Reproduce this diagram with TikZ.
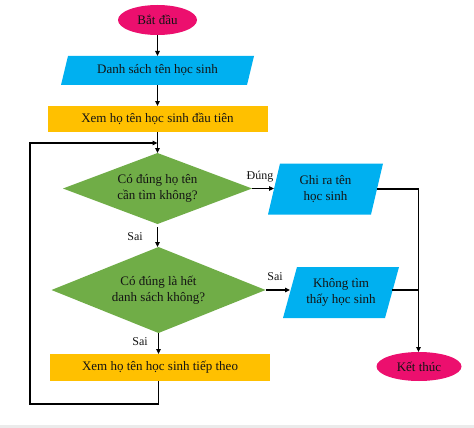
\documentclass[tikz,border=0pt]{standalone}
\usepackage{fontspec}
\setmainfont{Liberation Serif}
\usetikzlibrary{arrows.meta,shapes.geometric,backgrounds}
\definecolor{pinkc}{HTML}{EC0F6E}
\definecolor{bluec}{HTML}{00B0F0}
\definecolor{goldc}{HTML}{FFC000}
\definecolor{greenc}{HTML}{70AD47}
\definecolor{txtc}{HTML}{141414}
\begin{document}
\begin{tikzpicture}[x=1pt,y=-1pt,
  txt/.style={font=\fontsize{13}{16}\selectfont, text=txtc, align=center, inner sep=0pt, outer sep=0pt},
  term/.style={txt, ellipse, fill=pinkc, minimum height=30pt},
  plain/.style={txt, rectangle},
  rbox/.style={txt, rectangle, fill=goldc},
  lbl/.style={font=\fontsize{12}{14}\selectfont, text=txtc, inner sep=0pt},
  ln/.style={draw=black, line width=1.1pt},
  arr/.style={ln, -{Triangle[length=5pt,width=4.5pt]}}]
\useasboundingbox (0,0) rectangle (474,428);

% nodes
\node[term, minimum width=79pt] (start) at (157.5,20) {Bắt đầu};
\node[plain, minimum width=186pt, minimum height=29pt] (p1) at (157.5,70.5) {Danh sách tên học sinh};
\node[rbox, minimum width=220pt, minimum height=26pt] (r1) at (157.5,119) {Xem họ tên học sinh đầu tiên};
\node[plain, minimum width=189pt, minimum height=71pt] (d1) at (157.5,188.5) {Có đúng họ tên\\cần tìm không?};
\node[plain, minimum width=103pt, minimum height=51pt] (p2) at (325.5,189) {Ghi ra tên\\học sinh};
\node[plain, minimum width=214pt, minimum height=86pt] (d2) at (158.5,290) {Có đúng là hết\\danh sách không?};
\node[plain, minimum width=102pt, minimum height=51pt] (p3) at (341,292.5) {Không tìm\\thấy học sinh};
\node[rbox, minimum width=220pt, minimum height=27pt] (r2) at (160,367.5) {Xem họ tên học sinh tiếp theo};
\node[term, minimum width=85pt, minimum height=29pt] (end) at (419,366.5) {Kết thúc};

\begin{pgfonlayer}{background}
  \fill[white] (0,0) rectangle (474,428);
  \fill[black!8] (0,425) rectangle (474,428);
  \fill[bluec] ([xshift=3.5pt]p1.north west) -- ([xshift=3.5pt]p1.north east)
     -- ([xshift=-3.5pt]p1.south east) -- ([xshift=-3.5pt]p1.south west) -- cycle;
  \fill[bluec] ([xshift=6pt]p2.north west) -- ([xshift=6pt]p2.north east)
     -- ([xshift=-6pt]p2.south east) -- ([xshift=-6pt]p2.south west) -- cycle;
  \fill[bluec] ([xshift=7pt]p3.north west) -- ([xshift=7pt]p3.north east)
     -- ([xshift=-7pt]p3.south east) -- ([xshift=-7pt]p3.south west) -- cycle;
  \fill[greenc] (d1.north) -- (d1.east) -- (d1.south) -- (d1.west) -- cycle;
  \fill[greenc] (d2.north) -- (d2.east) -- (d2.south) -- (d2.west) -- cycle;
\end{pgfonlayer}

% labels
\node[lbl] (ldung) at (260,177) {Đúng};
\node[lbl] (lsai1) at (135,237) {Sai};
\node[lbl] (lsai2) at (275,277) {Sai};
\node[lbl] (lsai3) at (140,342) {Sai};

% connectors
\coordinate (loopin) at (157.5,143);
\coordinate (lc) at (30,404);
\coordinate (jn) at (418.5,189);
\draw[arr] (start) -- (p1);
\draw[arr] (p1) -- (r1);
\draw[arr] (r1) -- (d1.north);
\draw[arr] (d1.east) -- (d1.east -| p2.west);
\draw[arr] (d1.south |- 0,227) -- (d1.south |- d2.north);
\draw[arr] (d2.east) -- (d2.east -| p3.west);
\draw[arr] (d2.south) -- (d2.south |- r2.north);
\draw[ln] (p2.east |- jn) -- (jn);
\draw[arr] (jn) -- (jn |- end.north);
\draw[ln] (p3.east |- d2.east) -- (jn |- d2.east);
\draw[arr] (r2.south -| d2.south) |- (lc) |- (loopin);
\end{tikzpicture}
\end{document}
